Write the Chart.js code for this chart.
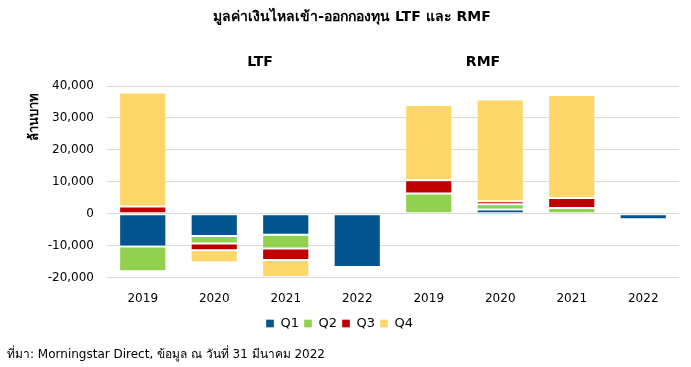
<!DOCTYPE html>
<html>
<head>
<meta charset="utf-8">
<script src="https://cdn.jsdelivr.net/npm/chart.js@4"></script>
<style>
  html, body { margin: 0; padding: 0; background: #fff; }
  #wrap { width: 691px; height: 367px; position: relative; }
</style>
</head>
<body>
<div id="wrap"><canvas id="flowChart" width="691" height="367"></canvas></div>
<script>
// data (million baht)
const years = ['2019', '2020', '2021', '2022', '2019', '2020', '2021', '2022'];
const groups = ['LTF', 'RMF'];
const q1 = [-10300, -7000, -6600, -16700, -700, 1350, -300, -1700];
const q2 = [-7700, -2300, -4300, 0, 6300, 1600, 1800, 0];
const q3 = [2300, -2100, -3600, 0, 4150, 950, 3150, 0];
const q4 = [35700, -3800, -5300, 0, 23600, 31850, 32250, 0];
const yTicks = [-20000, -10000, 0, 10000, 20000, 30000, 40000];

const titleText = 'มูลค่าเงินไหลเข้า-ออกกองทุน LTF และ RMF';
const yTitle = 'ล้านบาท';
const sourceText = 'ที่มา: Morningstar Direct, ข้อมูล ณ วันที่ 31 มีนาคม 2022';
const FONT = '"DejaVu Sans", Verdana, sans-serif';

const colors = { Q1: '#02558f', Q2: '#92d050', Q3: '#c00000', Q4: '#fdd769' };

function ds(label, values) {
  return {
    label: label,
    data: values,
    backgroundColor: colors[label],
    borderColor: 'rgba(255,255,255,0.35)',
    borderWidth: 1,
    borderSkipped: false,
    stack: 'all'
  };
}

// titles, group labels, axis title, footnote
const textPlugin = {
  id: 'texts',
  afterDraw(chart) {
    const ctx = chart.ctx;
    ctx.save();
    ctx.fillStyle = '#000';
    ctx.textBaseline = 'middle';
    ctx.textAlign = 'center';
    ctx.font = 'bold 14px ' + FONT;
    ctx.fillText(titleText, 352, 17);
    ctx.fillText(groups[0], 260, 62);
    ctx.fillText(groups[1], 483, 62);

    ctx.save();
    ctx.translate(35, 117);
    ctx.rotate(-Math.PI / 2);
    ctx.font = 'bold 13px ' + FONT;
    ctx.fillText(yTitle, 0, 0);
    ctx.restore();

    ctx.textAlign = 'left';
    ctx.font = '12px ' + FONT;
    ctx.fillText(sourceText, 7, 355);
    ctx.restore();
  }
};

new Chart(document.getElementById('flowChart'), {
  type: 'bar',
  data: {
    labels: years,
    datasets: [ds('Q1', q1), ds('Q2', q2), ds('Q3', q3), ds('Q4', q4)]
  },
  options: {
    responsive: false,
    animation: false,
    categoryPercentage: 1,
    barPercentage: 0.66,
    layout: { padding: { top: 86, right: 12, bottom: 27, left: 0 } },
    plugins: {
      title: { display: false },
      tooltip: { enabled: false },
      legend: {
        position: 'bottom',
        labels: {
          boxWidth: 8, boxHeight: 8, padding: 5,
          color: '#000',
          font: { family: FONT, size: 13 }
        }
      }
    },
    scales: {
      x: {
        stacked: true,
        grid: { display: false },
        border: { display: false },
        ticks: { color: '#000', font: { family: FONT, size: 12 }, padding: 6 }
      },
      y: {
        stacked: true,
        min: yTicks[0],
        max: yTicks[yTicks.length - 1],
        afterBuildTicks(scale) { scale.ticks = yTicks.map(v => ({ value: v })); },
        afterFit(scale) { scale.width = 107; },
        grid: { color: '#d9d9d9', lineWidth: 1, drawTicks: false },
        border: { display: false },
        ticks: {
          color: '#000', padding: 13,
          font: { family: FONT, size: 12 },
          callback: v => v.toLocaleString('en-US')
        }
      }
    }
  },
  plugins: [textPlugin]
});
</script>
</body>
</html>
